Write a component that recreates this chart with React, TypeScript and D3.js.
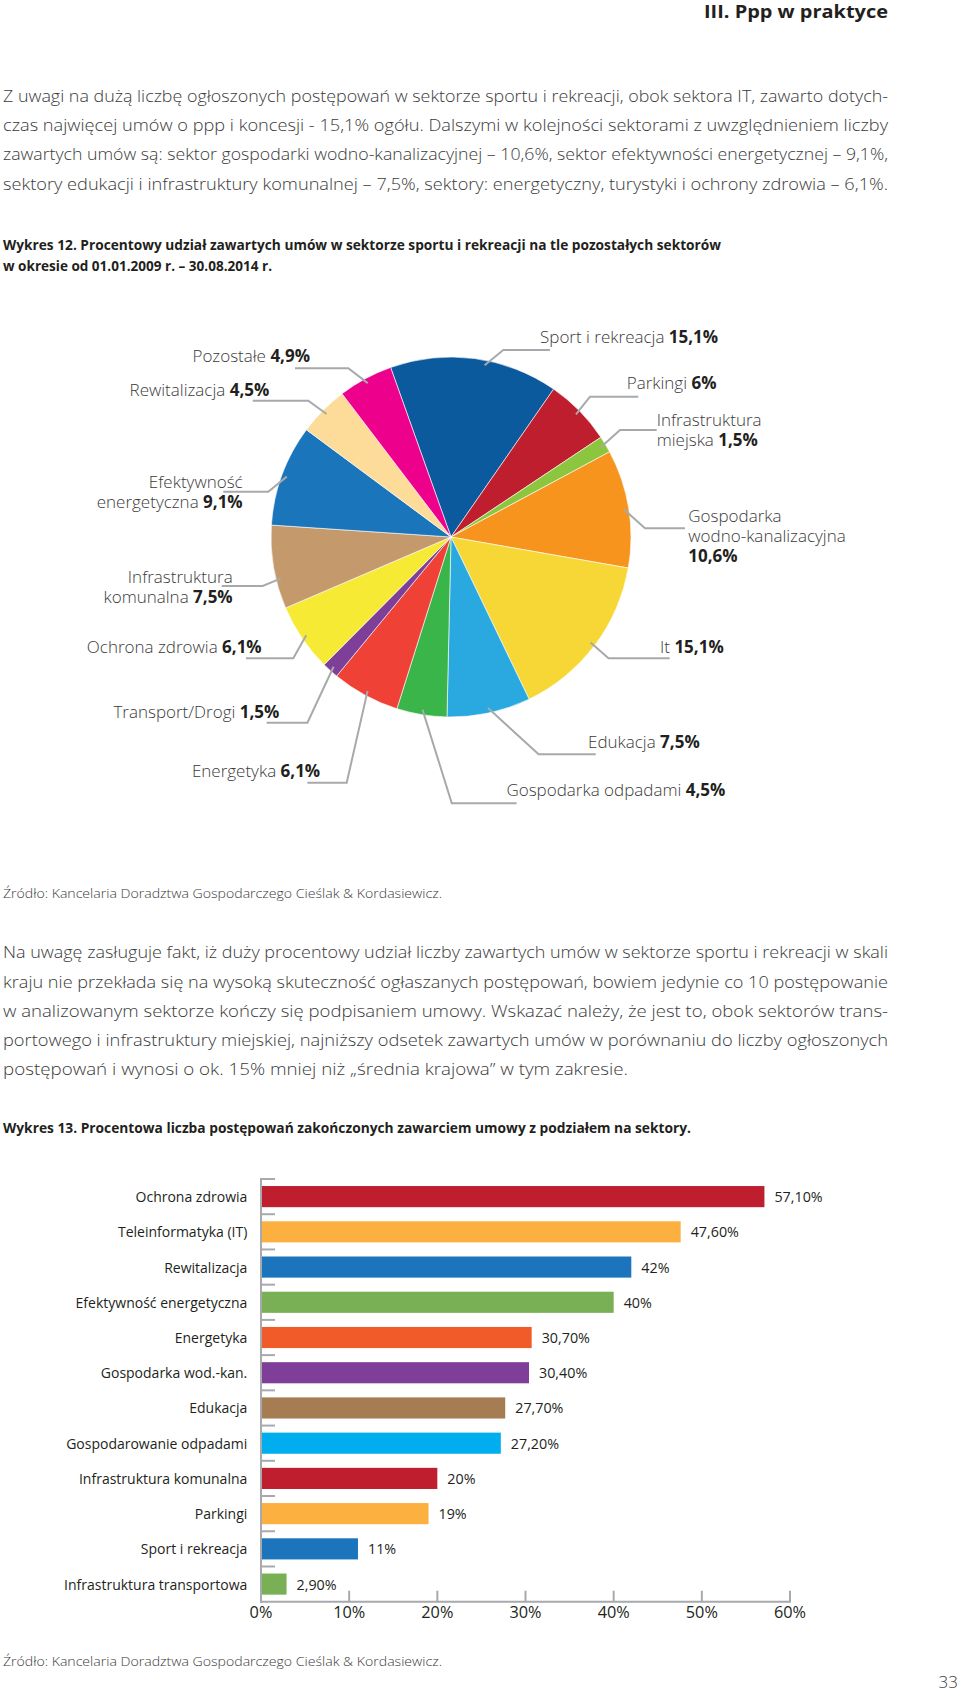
import React from 'react';
import * as d3 from 'd3';

// ---------- DATA ----------
const headerTitle = 'III. Ppp w praktyce';

const para1Lines = [
  'Z uwagi na dużą liczbę ogłoszonych postępowań w sektorze sportu i rekreacji, obok sektora IT,  zawarto dotych-',
  'czas najwięcej umów o ppp i koncesji - 15,1% ogółu. Dalszymi w kolejności sektorami z uwzględnieniem liczby',
  'zawartych umów są: sektor gospodarki wodno-kanalizacyjnej – 10,6%, sektor efektywności energetycznej – 9,1%,',
  'sektory edukacji i infrastruktury  komunalnej – 7,5%, sektory: energetyczny, turystyki i ochrony zdrowia – 6,1%.',
];

const caption12Lines = [
  'Wykres 12. Procentowy udział zawartych umów w sektorze sportu i rekreacji na tle pozostałych sektorów',
  'w okresie od 01.01.2009 r. – 30.08.2014 r.',
];

const sourceText = 'Źródło: Kancelaria Doradztwa Gospodarczego Cieślak & Kordasiewicz.';

const para2Lines = [
  'Na uwagę zasługuje fakt, iż duży procentowy udział liczby zawartych umów w sektorze sportu i rekreacji w skali',
  'kraju nie przekłada się na wysoką skuteczność ogłaszanych postępowań, bowiem jedynie co 10 postępowanie',
  'w analizowanym sektorze kończy się podpisaniem umowy. Wskazać należy, że jest to, obok sektorów trans-',
  'portowego i infrastruktury miejskiej, najniższy odsetek zawartych umów w porównaniu do liczby ogłoszonych',
  'postępowań i wynosi o ok. 15% mniej niż „średnia krajowa” w tym zakresie.',
];

const caption13 = 'Wykres 13. Procentowa liczba postępowań zakończonych zawarciem umowy z podziałem na sektory.';
const pageNumber = '33';

// Pie (Wykres 12)
const pieCategories = [
  'Sport i rekreacja', 'Parkingi', 'Infrastruktura miejska', 'Gospodarka wodno-kanalizacyjna', 'It',
  'Edukacja', 'Gospodarka odpadami', 'Energetyka', 'Transport/Drogi', 'Ochrona zdrowia',
  'Infrastruktura komunalna', 'Efektywność energetyczna', 'Rewitalizacja', 'Pozostałe',
];
const pieValues = [15.1, 6, 1.5, 10.6, 15.1, 7.5, 4.5, 6.1, 1.5, 6.1, 7.5, 9.1, 4.5, 4.9];
const pieValueLabels = ['15,1%', '6%', '1,5%', '10,6%', '15,1%', '7,5%', '4,5%', '6,1%', '1,5%', '6,1%', '7,5%', '9,1%', '4,5%', '4,9%'];
const pieColors = [
  '#0c5a9e', '#be1e2d', '#8cc63f', '#f7941d', '#f6d735',
  '#29a9e0', '#39b54a', '#ef4136', '#7d3f98', '#f6ea34',
  '#c49a6c', '#1b75bb', '#fddb98', '#ec008c',
];

// Bars (Wykres 13)
const barCategories = [
  'Ochrona zdrowia', 'Teleinformatyka (IT)', 'Rewitalizacja', 'Efektywność energetyczna', 'Energetyka',
  'Gospodarka wod.-kan.', 'Edukacja', 'Gospodarowanie odpadami', 'Infrastruktura komunalna', 'Parkingi',
  'Sport i rekreacja', 'Infrastruktura transportowa',
];
const barValues = [57.1, 47.6, 42, 40, 30.7, 30.4, 27.7, 27.2, 20, 19, 11, 2.9];
const barValueLabels = ['57,10%', '47,60%', '42%', '40%', '30,70%', '30,40%', '27,70%', '27,20%', '20%', '19%', '11%', '2,90%'];
const barColors = [
  '#be1e2d', '#fbb040', '#1c75bc', '#79b055', '#f15a29', '#7f3f98',
  '#a67c52', '#00aeef', '#be1e2d', '#fbb040', '#1c75bc', '#79b055',
];
const xTickValues = [0, 10, 20, 30, 40, 50, 60];

// ---------- LAYOUT (positions, not data) ----------
type LabelLayout = {
  lines: string[]; valueOwnLine?: boolean; side: 'L' | 'R';
  x: number; y: number; lineY: number; elbowX: number; lineEnd: number; angleShift?: number;
};
const pieLabelLayout: LabelLayout[] = [
  { lines: ['Sport i rekreacja'], side: 'R', x: 540, y: 343.3, lineY: 350, elbowX: 503.3, lineEnd: 550, angleShift: 3.5 },
  { lines: ['Parkingi'], side: 'R', x: 626.7, y: 389.3, lineY: 396.7, elbowX: 590, lineEnd: 638.3 },
  { lines: ['Infrastruktura', 'miejska'], side: 'R', x: 656.7, y: 426, lineY: 430, elbowX: 620, lineEnd: 656.7 },
  { lines: ['Gospodarka', 'wodno-kanalizacyjna'], valueOwnLine: true, side: 'R', x: 688.3, y: 521.7, lineY: 528.3, elbowX: 645, lineEnd: 685 },
  { lines: ['It'], side: 'R', x: 660, y: 652.7, lineY: 658.3, elbowX: 608.5, lineEnd: 669.7 },
  { lines: ['Edukacja'], side: 'R', x: 588, y: 748.3, lineY: 754.3, elbowX: 538.6, lineEnd: 595.7 },
  { lines: ['Gospodarka odpadami'], side: 'R', x: 506.4, y: 796, lineY: 803.3, elbowX: 451.8, lineEnd: 516.6 },
  { lines: ['Energetyka'], side: 'L', x: 320.2, y: 776.7, lineY: 782.7, elbowX: 346.7, lineEnd: 307.4 },
  { lines: ['Transport/Drogi'], side: 'L', x: 279.4, y: 718.3, lineY: 722.7, elbowX: 307.4, lineEnd: 266.6 },
  { lines: ['Ochrona zdrowia'], side: 'L', x: 261.7, y: 652.7, lineY: 658.3, elbowX: 293.3, lineEnd: 246 },
  { lines: ['Infrastruktura', 'komunalna'], side: 'L', x: 232.7, y: 582.7, lineY: 586, elbowX: 262.7, lineEnd: 221.7, angleShift: -4 },
  { lines: ['Efektywność', 'energetyczna'], side: 'L', x: 242.7, y: 488.3, lineY: 491.7, elbowX: 268.3, lineEnd: 223.3 },
  { lines: ['Rewitalizacja'], side: 'L', x: 269.3, y: 396, lineY: 400.7, elbowX: 308.3, lineEnd: 252.7 },
  { lines: ['Pozostałe'], side: 'L', x: 310, y: 361.7, lineY: 368.3, elbowX: 348.3, lineEnd: 295 },
];

const FONT = "'Open Sans', 'Noto Sans', 'DejaVu Sans', sans-serif";
const TEXT = '#3a3a3a';
const DARK = '#231f20';
const GRAY_LINE = '#a7a9ac';

export default function App() {
  const W = 960, H = 1696;

  // Pie
  const cx = 451, cy = 537, R = 180;
  const start = (-19.6 * Math.PI) / 180;
  const pieGen = d3.pie<number>().sort(null).value((d) => d).startAngle(start).endAngle(start + 2 * Math.PI);
  const arcs = pieGen(pieValues);
  const arcGen = d3.arc<d3.PieArcDatum<number>>().innerRadius(0).outerRadius(R);
  const leaderR = 175;

  // Bars
  const x = d3.scaleLinear().domain([0, 60]).range([261, 790]);
  const y = d3.scaleBand<string>().domain(barCategories).range([1179, 1601.7]).paddingInner(0.4).paddingOuter(0.2);
  const bw = y.bandwidth();
  const step = y.step();
  const axisY = 1601.7;

  const para = (lines: string[], y0: number, dy: number, lastLen: number) =>
    lines.map((l, i) => (
      <text key={i} x={3} y={y0 + i * dy} fontSize={16.5} fontWeight={300} fill={TEXT}
        textLength={i === lines.length - 1 && lastLen ? lastLen : 885} lengthAdjust="spacingAndGlyphs">{l}</text>
    ));

  return (
    <div style={{ position: 'absolute', left: 0, top: 0 }}>
      <svg width={W} height={H} viewBox={`0 0 ${W} ${H}`} style={{ display: 'block', fontFamily: FONT, background: '#fff' }}>
        <rect x={0} y={0} width={W} height={H} fill="#fff" />
        {/* Header */}
        <text x={704} y={18} fontSize={17.5} fontWeight={700} fill={DARK} textLength={184} lengthAdjust="spacingAndGlyphs">{headerTitle}</text>

        {/* Paragraph 1 */}
        {para(para1Lines, 102, 29.2, 0)}

        {/* Caption 12 */}
        <text x={3} y={250} fontSize={14} fontWeight={700} fill={DARK} textLength={718} lengthAdjust="spacingAndGlyphs">{caption12Lines[0]}</text>
        <text x={3} y={270.7} fontSize={14} fontWeight={700} fill={DARK} textLength={269} lengthAdjust="spacingAndGlyphs">{caption12Lines[1]}</text>

        {/* Pie */}
        <g transform={`translate(${cx},${cy})`}>
          {arcs.map((a, i) => (
            <path key={i} d={arcGen(a) || ''} fill={pieColors[i]} stroke="#fff" strokeWidth={0.6}>
              <title>{pieCategories[i] + ' ' + pieValueLabels[i]}</title>
            </path>
          ))}
        </g>
        {arcs.map((a, i) => {
          const L = pieLabelLayout[i];
          const mid = (a.startAngle + a.endAngle) / 2 + ((L.angleShift || 0) * Math.PI) / 180;
          const sx = cx + leaderR * Math.sin(mid);
          const sy = cy - leaderR * Math.cos(mid);
          return (
            <path key={'ld' + i} d={`M${sx},${sy}L${L.elbowX},${L.lineY}L${L.lineEnd},${L.lineY}`}
              fill="none" stroke={GRAY_LINE} strokeWidth={2} />
          );
        })}
        {pieLabelLayout.map((L, i) => {
          const anchor = L.side === 'L' ? 'end' : 'start';
          const rows = L.lines.map((ln, j) => {
            const isLast = j === L.lines.length - 1;
            return (
              <text key={j} x={L.x} y={L.y + j * 20} textAnchor={anchor} fontSize={17} style={{ whiteSpace: 'pre' }}>
                <tspan fontWeight={300} fill={TEXT}>{ln}</tspan>
                {isLast && !L.valueOwnLine ? <tspan fontWeight={700} fill={DARK}>{' ' + pieValueLabels[i]}</tspan> : null}
              </text>
            );
          });
          if (L.valueOwnLine) {
            rows.push(
              <text key="v" x={L.x} y={L.y + L.lines.length * 20} textAnchor={anchor} fontSize={17} fontWeight={700} fill={DARK}>{pieValueLabels[i]}</text>
            );
          }
          return <g key={'lb' + i}>{rows}</g>;
        })}

        {/* Source 1 */}
        <text x={3} y={898} fontSize={13.5} fontWeight={300} fill={TEXT} textLength={439} lengthAdjust="spacingAndGlyphs">{sourceText}</text>

        {/* Paragraph 2 */}
        {para(para2Lines, 958.3, 29.2, 625)}

        {/* Caption 13 */}
        <text x={3} y={1133} fontSize={14} fontWeight={700} fill={DARK} textLength={688} lengthAdjust="spacingAndGlyphs">{caption13}</text>

        {/* Bar chart */}
        {barCategories.map((c, i) => (
          <rect key={'b' + i} x={x(0)} y={y(c)!} width={x(barValues[i]) - x(0)} height={bw} fill={barColors[i]} />
        ))}
        {/* y-axis tick marks */}
        {barCategories.map((c, i) => (
          <line key={'yt' + i} x1={x(0)} x2={x(0) + 14} y1={y(c)! - (step - bw) / 2} y2={y(c)! - (step - bw) / 2} stroke={GRAY_LINE} strokeWidth={2} />
        ))}
        <line x1={x(0)} x2={x(0)} y1={1178} y2={axisY + 1} stroke={GRAY_LINE} strokeWidth={2} />
        <line x1={x(0) - 1} x2={x(60) + 1} y1={axisY} y2={axisY} stroke={GRAY_LINE} strokeWidth={2} />
        {xTickValues.filter((t) => t > 0).map((t) => (
          <line key={'xt' + t} x1={x(t)} x2={x(t)} y1={axisY - 11} y2={axisY} stroke={GRAY_LINE} strokeWidth={2} />
        ))}
        {xTickValues.map((t) => (
          <text key={'xl' + t} x={x(t)} y={1617.5} textAnchor="middle" fontSize={16.3} fill={DARK}>{t + '%'}</text>
        ))}
        {barCategories.map((c, i) => (
          <text key={'cl' + i} x={247.3} y={y(c)! + bw / 2 + 5.5} textAnchor="end" fontSize={14} fill={DARK}>{c}</text>
        ))}
        {barCategories.map((c, i) => (
          <text key={'vl' + i} x={x(barValues[i]) + 10} y={y(c)! + bw / 2 + 5.5} fontSize={14.3} fill={DARK}>{barValueLabels[i]}</text>
        ))}

        {/* Source 2 */}
        <text x={3} y={1666} fontSize={13.5} fontWeight={300} fill={TEXT} textLength={439} lengthAdjust="spacingAndGlyphs">{sourceText}</text>

        {/* Page number */}
        <text x={958} y={1688} textAnchor="end" fontSize={17} fontWeight={300} fill={TEXT}>{pageNumber}</text>
      </svg>
    </div>
  );
}
